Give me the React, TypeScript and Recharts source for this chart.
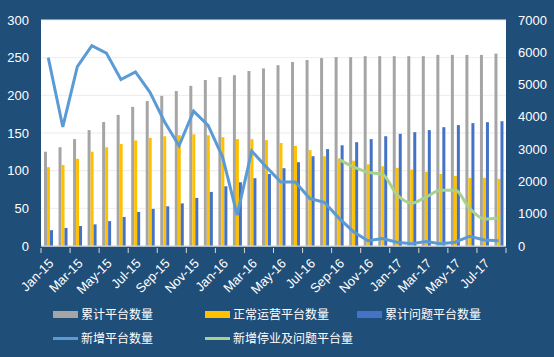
import React from "react";
import { ComposedChart, Bar, Line, XAxis, YAxis, CartesianGrid, Legend } from "recharts";

const months = [
  "Jan-15", "Feb-15", "Mar-15", "Apr-15", "May-15", "Jun-15", "Jul-15", "Aug-15",
  "Sep-15", "Oct-15", "Nov-15", "Dec-15", "Jan-16", "Feb-16", "Mar-16", "Apr-16",
  "May-16", "Jun-16", "Jul-16", "Aug-16", "Sep-16", "Oct-16", "Nov-16", "Dec-16",
  "Jan-17", "Feb-17", "Mar-17", "Apr-17", "May-17", "Jun-17", "Jul-17", "Aug-17",
];

// bars, right axis
const totalPlatforms = [
  2920, 3060, 3310, 3590, 3840, 4060, 4310, 4490, 4650, 4800, 4960, 5140, 5230, 5290, 5420, 5500,
  5600, 5700, 5760, 5820, 5850, 5850, 5880, 5880, 5880, 5880, 5880, 5920, 5920, 5920, 5920, 5960,
];
const normalPlatforms = [
  2440, 2510, 2700, 2920, 3060, 3160, 3270, 3350, 3400, 3430, 3460, 3430, 3370, 3310, 3310, 3280,
  3190, 3100, 2970, 2780, 2710, 2640, 2530, 2470, 2420, 2370, 2300, 2230, 2170, 2110, 2110, 2080,
];
const problemPlatforms = [
  490, 560, 620, 670, 770, 900, 1055, 1150, 1230, 1320, 1490, 1675, 1850, 1975, 2100, 2230,
  2410, 2595, 2780, 3000, 3120, 3215, 3310, 3400, 3475, 3525, 3590, 3680, 3745, 3805, 3835, 3865,
];

// lines, left axis
const newPlatforms = [
  250, 158, 238, 266, 256, 221, 231, 204, 165, 133, 179, 160, 118, 41, 126, 105,
  85, 85, 63, 58, 37, 19, 7, 10, 5, 3, 6, 3, 5, 13, 8, 7,
];
const newProblem: (number | null)[] = [
  null, null, null, null, null, null, null, null, null, null, null, null, null, null, null, null,
  null, null, null, null, 115, 105, 98, 95, 68, 57, 65, 74, 74, 50, 36, 37,
];

const leftTicks = [0, 50, 100, 150, 200, 250, 300];
const rightTicks = [0, 1000, 2000, 3000, 4000, 5000, 6000, 7000];

const data = months.map((m, i) => ({
  month: m,
  total: totalPlatforms[i],
  normal: normalPlatforms[i],
  problem: problemPlatforms[i],
  newAdd: newPlatforms[i],
  newProblem: newProblem[i],
}));

const BG = "#1F4E79";
const FONT = "'Liberation Sans', Arial, sans-serif";
const CJK = "'Noto Sans CJK SC', sans-serif";
const HALF = 465 / 32 / 2;

function MonthTick(props: any) {
  const { x, y, payload } = props;
  const tx = x + 3;
  const ty = y + 13;
  return (
    <g>
      <line x1={x - HALF} x2={x - HALF} y1={y} y2={y + 5} stroke="#D9D9D9" />
      {payload.value === "Jul-17" && (
        <line x1={x + 3 * HALF} x2={x + 3 * HALF} y1={y} y2={y + 5} stroke="#D9D9D9" />
      )}
      <text
        x={tx}
        y={ty}
        dy="0.35em"
        transform={`rotate(-45 ${tx} ${ty})`}
        textAnchor="end"
        fill="#fff"
        fontSize={13}
        fontFamily={FONT}
      >
        {payload.value}
      </text>
    </g>
  );
}

const legendItems = [
  { label: "累计平台数量", color: "#A5A5A5", kind: "bar", x: 53, y: 314 },
  { label: "正常运营平台数量", color: "#FFC000", kind: "bar", x: 205, y: 314 },
  { label: "累计问题平台数量", color: "#4472C4", kind: "bar", x: 357, y: 314 },
  { label: "新增平台数量", color: "#5B9BD5", kind: "line", x: 53, y: 338 },
  { label: "新增停业及问题平台量", color: "#A9D18E", kind: "line", x: 205, y: 338 },
];

function ChartLegend() {
  return (
    <div style={{ position: "relative", width: 554, height: 56 }}>
      {legendItems.map((it) => (
        <div key={it.label}>
          <div
            style={{
              position: "absolute",
              left: it.x,
              top: it.y - 301 - (it.kind === "bar" ? 3.5 : 1.5),
              width: 25,
              height: it.kind === "bar" ? 7 : 3,
              background: it.color,
            }}
          />
          <div
            style={{
              position: "absolute",
              left: it.x + 28,
              top: it.y - 301 - 9,
              fontSize: 12,
              lineHeight: "18px",
              color: "#fff",
              fontFamily: CJK,
              whiteSpace: "nowrap",
            }}
          >
            {it.label}
          </div>
        </div>
      ))}
    </div>
  );
}

export default function App() {
  return (
    <div style={{ position: "fixed", left: 0, top: 0, width: 554, height: 357, background: BG }}>
      <ComposedChart
        width={554}
        height={357}
        data={data}
        margin={{ top: 20, right: 0, left: 0, bottom: 0 }}
        barGap={0}
        barSize={3}
      >
        <CartesianGrid vertical={false} stroke="#ECECEC" fill="#FFFFFF" />
        <XAxis
          dataKey="month"
          interval={1}
          height={55}
          tick={<MonthTick />}
          tickLine={false}
          tickSize={0}
          stroke="#D9D9D9"
        />
        <YAxis
          domain={[0, 300]}
          ticks={leftTicks}
          width={41}
          axisLine={false}
          tickLine={false}
          tickSize={0}
          tickMargin={12}
          tick={{ fill: "#fff", fontSize: 13, fontFamily: FONT }}
        />
        <YAxis
          yAxisId="right"
          orientation="right"
          domain={[0, 7000]}
          ticks={rightTicks}
          width={48}
          axisLine={false}
          tickLine={false}
          tickSize={0}
          tickMargin={12}
          tick={{ fill: "#fff", fontSize: 13, fontFamily: FONT, textAnchor: "start" }}
        />
        <Bar yAxisId="right" dataKey="total" name="累计平台数量" fill="#A5A5A5" isAnimationActive={false} />
        <Bar yAxisId="right" dataKey="normal" name="正常运营平台数量" fill="#FFC000" isAnimationActive={false} />
        <Bar yAxisId="right" dataKey="problem" name="累计问题平台数量" fill="#4472C4" isAnimationActive={false} />
        <Line
          dataKey="newAdd"
          name="新增平台数量"
          stroke="#5B9BD5"
          strokeWidth={3}
          dot={false}
          type="linear"
          isAnimationActive={false}
        />
        <Line
          dataKey="newProblem"
          name="新增停业及问题平台量"
          stroke="#A9D18E"
          strokeWidth={3}
          dot={false}
          type="monotone"
          connectNulls={false}
          isAnimationActive={false}
        />
        <Legend verticalAlign="bottom" height={56} content={<ChartLegend />} wrapperStyle={{ left: 0, width: 554 }} />
      </ComposedChart>
    </div>
  );
}
